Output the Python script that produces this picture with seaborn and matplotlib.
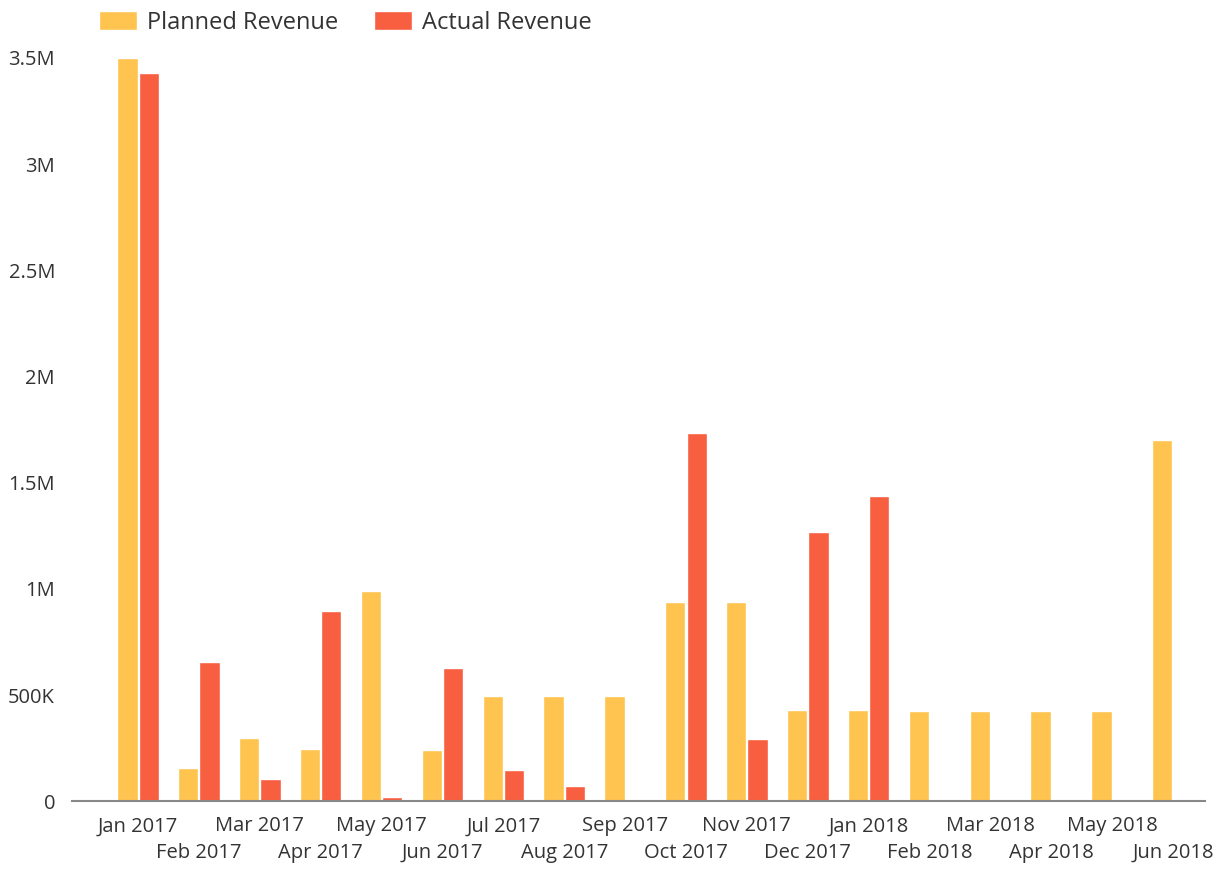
import numpy as np
import pandas as pd
import matplotlib
matplotlib.use("Agg")
import matplotlib.pyplot as plt
from matplotlib.ticker import FuncFormatter
import seaborn as sns

months = ["Jan 2017", "Feb 2017", "Mar 2017", "Apr 2017", "May 2017", "Jun 2017",
          "Jul 2017", "Aug 2017", "Sep 2017", "Oct 2017", "Nov 2017", "Dec 2017",
          "Jan 2018", "Feb 2018", "Mar 2018", "Apr 2018", "May 2018", "Jun 2018"]
planned = [3500000, 155000, 300000, 245000, 990000, 240000,
           495000, 495000, 495000, 937000, 937000, 430000,
           430000, 425000, 425000, 425000, 425000, 1700000]
actual = [3430000, 655000, 103000, 895000, 20000, 627000,
          146000, 70000, 5000, 1733000, 292000, 1267000,
          1437000, np.nan, np.nan, np.nan, np.nan, np.nan]
series_names = ["Planned Revenue", "Actual Revenue"]
colors = ["#FEC44F", "#F85E40"]
yticks = [0, 500000, 1000000, 1500000, 2000000, 2500000, 3000000, 3500000]

df = pd.DataFrame({
    "Month": months * 2,
    "Series": [series_names[0]] * len(months) + [series_names[1]] * len(months),
    "Revenue": planned + actual,
})

sns.set_theme(style="white")
plt.rcParams["font.family"] = ["Open Sans", "DejaVu Sans"]

fig = plt.figure(figsize=(12.15, 8.69), dpi=100)
ax = fig.add_axes([0.059, 0.078, 0.933, 0.8675])

sns.barplot(data=df, x="Month", y="Revenue", hue="Series", order=months,
            hue_order=series_names, palette=colors, width=0.7, gap=0.05,
            saturation=1, ax=ax, legend=True)

ax.set_ylim(0, 3550000)
ax.set_xlim(-1.09, len(months) - 1 + 0.53)
ax.set_yticks(yticks)


def fmt(v, pos):
    if v == 0:
        return "0"
    if v >= 1e6:
        s = f"{v / 1e6:.1f}".rstrip("0").rstrip(".")
        return s + "M"
    return f"{int(v / 1e3)}K"


ax.yaxis.set_major_formatter(FuncFormatter(fmt))
even = list(range(0, len(months), 2))
odd = list(range(1, len(months), 2))
ax.set_xticks(even)
ax.set_xticklabels([months[i] for i in even])
ax.set_xticks(odd, minor=True)
ax.set_xticklabels([months[i] for i in odd], minor=True)
ax.tick_params(axis="x", which="major", length=0, pad=11, labelsize=14.5,
               labelcolor="#333333")
ax.tick_params(axis="x", which="minor", length=0, pad=30, labelsize=14.5,
               labelcolor="#333333")
ax.tick_params(axis="y", length=0, pad=12, labelsize=14.5, labelcolor="#333333")
ax.set_xlabel("")
ax.set_ylabel("")
for s in ["top", "right", "left"]:
    ax.spines[s].set_visible(False)
ax.spines["bottom"].set_color("#888888")
ax.spines["bottom"].set_linewidth(1.5)

handles, labels = ax.get_legend_handles_labels()
ax.get_legend().remove()
fig.legend(handles, labels, loc="upper left", bbox_to_anchor=(0.064, 1.012),
           ncol=2, frameon=False, fontsize=17, handlelength=1.6,
           handleheight=0.9, columnspacing=1.5, handletextpad=0.45,
           labelcolor="#333333")

fig.savefig("out.png", dpi=100, facecolor="white")
